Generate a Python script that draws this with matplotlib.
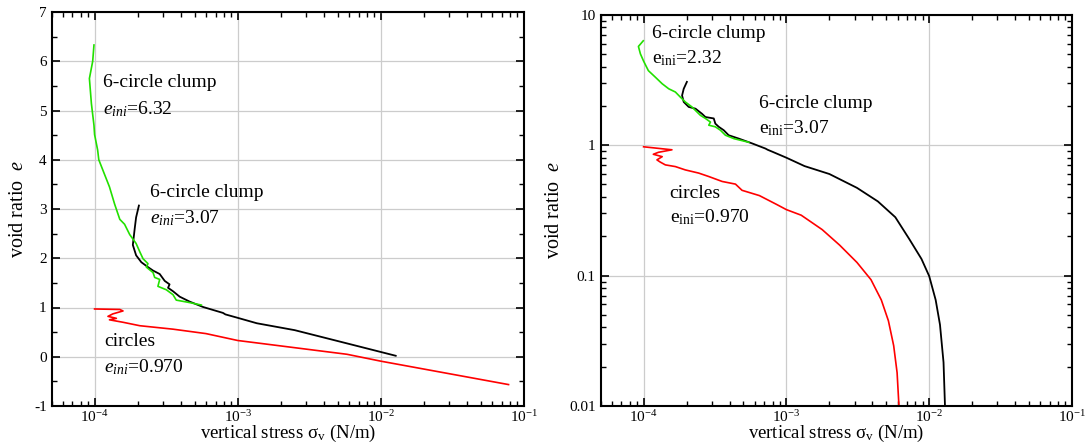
import numpy as np
import matplotlib
matplotlib.use("Agg")
import matplotlib.pyplot as plt
from matplotlib.ticker import LogLocator, FixedLocator, MultipleLocator, FuncFormatter, NullFormatter

plt.rcParams['font.family'] = ['Liberation Serif', 'DejaVu Serif']
plt.rcParams['mathtext.fontset'] = 'custom'
plt.rcParams['mathtext.rm'] = 'Liberation Serif'
plt.rcParams['mathtext.it'] = 'Liberation Serif:italic'
plt.rcParams['axes.unicode_minus'] = False

## left panel (linear e): vertical stress in N/m, void ratio e
l_green_s = [0.99e-4, 0.97e-4, 0.92e-4, 0.95e-4, 0.99e-4, 1.0e-4, 1.05e-4, 1.07e-4, 1.16e-4,
             1.27e-4, 1.38e-4, 1.50e-4, 1.62e-4, 1.76e-4, 1.95e-4, 2.07e-4, 2.18e-4, 2.36e-4,
             2.30e-4, 2.56e-4, 2.63e-4, 2.85e-4, 2.77e-4, 3.17e-4, 3.53e-4, 3.72e-4, 4.61e-4, 5.57e-4]
l_green_e = [6.33, 6.0, 5.65, 5.14, 4.7, 4.51, 4.2, 4.0, 3.74,
             3.45, 3.10, 2.79, 2.69, 2.48, 2.30, 2.13, 1.99, 1.89,
             1.82, 1.71, 1.61, 1.57, 1.43, 1.36, 1.26, 1.15, 1.10, 1.05]

l_black_s = [2.04e-4, 1.95e-4, 1.91e-4, 1.85e-4, 1.95e-4, 2.12e-4, 2.36e-4, 2.56e-4, 2.85e-4,
             3.09e-4, 3.34e-4, 3.26e-4, 3.53e-4, 3.93e-4, 4.61e-4, 5.73e-4, 7.89e-4, 8.2e-4,
             1.0e-3, 1.36e-3, 2.5e-3, 5.3e-3, 1.27e-2]
l_black_e = [3.07, 2.83, 2.62, 2.27, 2.06, 1.92, 1.82, 1.75, 1.68,
             1.54, 1.47, 1.40, 1.33, 1.22, 1.12, 1.01, 0.89, 0.86,
             0.79, 0.68, 0.54, 0.30, 0.02]

l_red_s = [1.0e-4, 1.5e-4, 1.58e-4, 1.34e-4, 1.24e-4, 1.42e-4, 1.27e-4, 1.58e-4, 2.07e-4,
           3.53e-4, 6.0e-4, 1.0e-3, 5.8e-3, 1.0e-2, 7.8e-2]
l_red_e = [0.97, 0.96, 0.93, 0.87, 0.82, 0.78, 0.75, 0.70, 0.63,
           0.56, 0.47, 0.33, 0.05, -0.09, -0.565]

## right panel (log e)
r_green_s = [0.995e-4, 0.92e-4, 0.95e-4, 1.0e-4, 1.08e-4, 1.21e-4, 1.35e-4, 1.50e-4, 1.67e-4,
             1.81e-4, 1.96e-4, 2.18e-4, 2.37e-4, 2.50e-4, 2.71e-4, 2.94e-4, 2.86e-4, 3.18e-4,
             3.45e-4, 3.74e-4, 4.29e-4, 5.46e-4]
r_green_e = [6.3, 5.7, 5.0, 4.4, 3.72, 3.31, 2.95, 2.70, 2.55,
             2.33, 2.14, 1.96, 1.79, 1.69, 1.60, 1.50, 1.42, 1.38,
             1.30, 1.19, 1.12, 1.05]

r_black_s = [2.01e-4, 1.91e-4, 1.86e-4, 1.91e-4, 2.07e-4, 2.31e-4, 2.56e-4, 2.71e-4, 3.10e-4,
             3.18e-4, 3.36e-4, 3.64e-4, 3.94e-4, 4.65e-4, 5.75e-4, 7.14e-4, 7.4e-4, 7.96e-4,
             1.0e-3, 1.34e-3, 2.0e-3, 3.12e-3, 4.37e-3, 5.79e-3, 7.26e-3, 8.83e-3, 1.0e-2,
             1.11e-2, 1.19e-2, 1.26e-2, 1.29e-2]
r_black_e = [3.05, 2.70, 2.40, 2.14, 1.96, 1.90, 1.74, 1.64, 1.60,
             1.46, 1.38, 1.30, 1.19, 1.12, 1.03, 0.94, 0.92, 0.89,
             0.80, 0.69, 0.60, 0.47, 0.37, 0.28, 0.19, 0.134, 0.099,
             0.065, 0.042, 0.0216, 0.01]

r_red_s = [1.0e-4, 1.58e-4, 1.27e-4, 1.17e-4, 1.35e-4, 1.24e-4, 1.31e-4, 1.42e-4, 1.67e-4,
           1.96e-4, 2.43e-4, 2.86e-4, 3.55e-4, 4.40e-4, 4.89e-4, 6.47e-4, 8.57e-4, 1.0e-3,
           1.27e-3, 1.78e-3, 2.36e-3, 3.12e-3, 3.91e-3, 4.62e-3, 5.18e-3, 5.64e-3, 5.96e-3, 6.14e-3]
r_red_e = [0.97, 0.92, 0.88, 0.85, 0.815, 0.77, 0.74, 0.705, 0.684,
           0.645, 0.61, 0.574, 0.526, 0.502, 0.45, 0.41, 0.35, 0.32,
           0.29, 0.225, 0.171, 0.126, 0.093, 0.065, 0.045, 0.029, 0.018, 0.01]

green = '#22e000'
W, H = 1090, 443
fig = plt.figure(figsize=(W / 100, H / 100), dpi=100)
axl = fig.add_axes([51.5 / W, (H - 406) / H, 472.5 / W, 394 / H])
axr = fig.add_axes([600.6 / W, (H - 406) / H, 471.4 / W, 391.4 / H])


def style(ax):
    ax.set_xscale('log')
    ax.set_xlim(5e-5, 1e-1)
    ax.xaxis.set_major_locator(FixedLocator([1e-4, 1e-3, 1e-2, 1e-1]))
    ax.xaxis.set_minor_locator(LogLocator(base=10, subs=np.arange(2, 10)))
    ax.xaxis.set_minor_formatter(NullFormatter())
    ax.xaxis.set_major_formatter(FuncFormatter(lambda v, p: r'$10^{%d}$' % round(np.log10(v))))
    ax.tick_params(which='both', direction='in', top=True, right=True, labelsize=11, color='black')
    ax.tick_params(axis='x', pad=2)
    ax.tick_params(which='major', length=6, width=1.2)
    ax.tick_params(which='minor', length=3.5, width=1.0)
    ax.grid(True, which='major', color='#cccccc', linewidth=0.9)
    ax.set_axisbelow(True)
    for s in ax.spines.values():
        s.set_linewidth(1.5)
    ax.set_xlabel(r'vertical stress σ$_{\mathrm{v}}$ (N/m)', fontsize=13.5, labelpad=-1.5)
    ax.set_ylabel(r'void ratio  $e$', fontsize=14.5, labelpad=4)


style(axl)
axl.set_ylim(-1, 7)
axl.yaxis.set_major_locator(MultipleLocator(1))
axl.yaxis.set_minor_locator(MultipleLocator(0.5))
axl.plot(l_red_s, l_red_e, color='red', lw=1.2)
axl.plot(l_black_s, l_black_e, color='black', lw=1.3)
axl.plot(l_green_s, l_green_e, color=green, lw=1.2)
tk = dict(fontsize=14, va='center', ha='left')
axl.text(1.14e-4, 5.56, '6-circle clump', **tk)
axl.text(1.14e-4, 5.03, r'$e_{ini}$=6.32', **tk)
axl.text(2.44e-4, 3.33, '6-circle clump', **tk)
axl.text(2.44e-4, 2.82, r'$e_{ini}$=3.07', **tk)
axl.text(1.16e-4, 0.30, 'circles', **tk)
axl.text(1.16e-4, -0.21, r'$e_{ini}$=0.970', **tk)

style(axr)
axr.set_yscale('log')
axr.set_ylim(0.01, 10)
axr.yaxis.set_major_locator(FixedLocator([0.01, 0.1, 1, 10]))
axr.yaxis.set_minor_locator(LogLocator(base=10, subs=np.arange(2, 10)))
axr.yaxis.set_minor_formatter(NullFormatter())
axr.yaxis.set_major_formatter(FuncFormatter(lambda v, p: '%g' % v))
axr.plot(r_red_s, r_red_e, color='red', lw=1.2)
axr.plot(r_black_s, r_black_e, color='black', lw=1.3)
axr.plot(r_green_s, r_green_e, color=green, lw=1.2)
axr.text(1.15e-4, 7.17, '6-circle clump', **tk)
axr.text(1.15e-4, 4.64, r'e$_{\mathrm{ini}}$=2.32', **tk)
axr.text(6.4e-4, 2.08, '6-circle clump', **tk)
axr.text(6.4e-4, 1.34, r'e$_{\mathrm{ini}}$=3.07', **tk)
axr.text(1.52e-4, 0.427, 'circles', **tk)
axr.text(1.52e-4, 0.278, r'e$_{\mathrm{ini}}$=0.970', **tk)

fig.savefig('out.png', dpi=100)
